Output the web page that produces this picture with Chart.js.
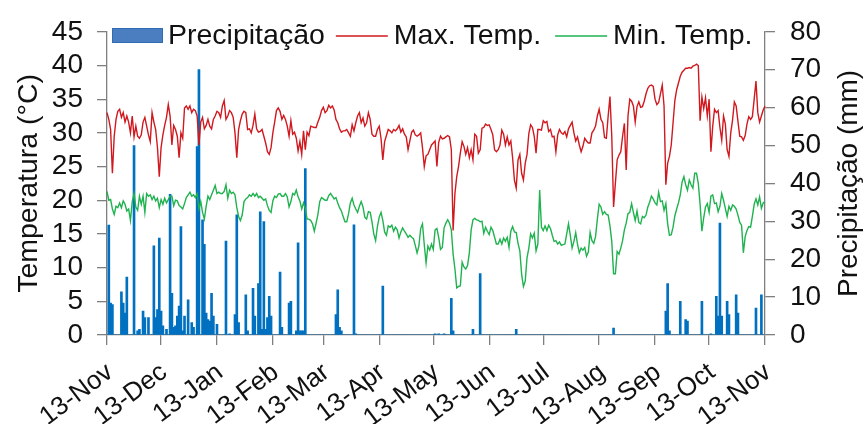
<!DOCTYPE html>
<html>
<head>
<meta charset="utf-8">
<script src="https://cdn.jsdelivr.net/npm/chart.js@4.4.1/dist/chart.umd.min.js"></script>
<style>
  html, body { margin: 0; padding: 0; background: #fff; }
  #wrap { width: 865px; height: 424px; position: relative; }
</style>
</head>
<body>
<div id="wrap"><canvas id="grafico" width="865" height="424"></canvas></div>
<script>
// Nomes dos meses usados nos rótulos do eixo x
const meses = ['Jan', 'Feb', 'Mar', 'Apr', 'May', 'Jun', 'Jul', 'Aug', 'Sep', 'Oct', 'Nov', 'Dec'];

// Temperatura máxima diária (°C), de 13-Nov a 13-Nov
const tempMax = [
  33, 32, 30.5, 24, 29.5, 32, 33.2, 33.5, 32.3, 33,
  31.6, 32.5, 31.6, 30, 32.5, 29.4, 31, 29.5, 29.2, 29.7,
  31.6, 32.3, 31, 29.7, 28.7, 33, 31.6, 30.5, 27.8, 23.5,
  27.8, 29.7, 31.1, 32.3, 34.2, 32.5, 28.2, 31.1, 30.5, 29.5,
  26.3, 30, 29.2, 33.7, 34, 33.5, 34, 33, 33.5, 33.3,
  32.5, 28.2, 31.6, 32.3, 30.6, 31.1, 32, 31, 30.6, 32,
  32.5, 33.2, 33, 32.3, 34, 34.8, 32, 32.5, 33.3, 33,
  32.3, 30, 26.3, 30.5, 31.8, 32.8, 33.2, 33, 30.5, 30.6,
  30, 31.1, 32.8, 30.6, 30.1, 30.2, 30.5, 29.5, 28.5, 27.2,
  26.8, 27.8, 30, 31.6, 33.3, 33.7, 33.2, 32, 32.6, 32,
  31, 29.5, 31.8, 29.8, 30.1, 29.2, 27.3, 28.7, 26.8, 30.3,
  27.5, 30.1, 29.6, 31, 30.9, 30.8, 30.8, 31.6, 32.3, 33.3,
  33.8, 33, 33.3, 34.1, 33.7, 34, 33.4, 32, 31.5, 30.6,
  30.1, 30.3, 30.3, 30.5, 30, 29.5, 31.2, 30.3, 31.5, 32.5,
  33, 31.5, 32.2, 31, 31.5, 33, 32, 29.8, 29.5, 29.5,
  30.5, 31, 29.2, 26, 28.7, 29.6, 30.5, 30.3, 30, 30.5,
  30.3, 30.6, 31.1, 30.1, 30.6, 29.8, 29.4, 27.5, 28.8, 30.1,
  30.4, 29.7, 29.5, 29.7, 30, 27.8, 25, 26.6, 26.8, 27.5,
  28.2, 28.5, 28.8, 25, 28.6, 29.5, 29.1, 29.2, 29.4, 29.6,
  29.4, 27.5, 15.5, 21, 23.5, 25, 27, 28.7, 28, 26.8,
  27.8, 26.3, 27.5, 26, 29.8, 29.5, 27, 27.5, 30.7, 30.8,
  31.3, 31.1, 31.2, 30.5, 29.7, 27.5, 27.2, 27.5, 28.2, 30.4,
  29.8, 28.2, 29.4, 28.2, 28.8, 26.3, 23, 21.8, 26, 26.8,
  24, 23, 25.5, 26.8, 29.9, 31.2, 30.8, 29.5, 27, 30.5,
  30.5, 30.4, 31.8, 31.5, 31.7, 30.2, 30.5, 29.4, 29.5, 27.2,
  29.7, 30.5, 30, 29.8, 30.2, 29.4, 30.6, 31.1, 31.6, 30,
  28.8, 29.4, 28.2, 27.2, 28, 29.2, 28.8, 28.5, 28.5, 30,
  30.4, 31, 32.5, 33.5, 32, 31.5, 29.3, 29.2, 32.5, 35.4,
  29.5, 19, 22.5, 26, 26.7, 27.2, 29.5, 31.4, 24.5, 32.5,
  35, 34.7, 34, 31.6, 33.9, 34.6, 33.8, 33.9, 34.7, 35.8,
  36.6, 37, 37.1, 36.9, 35, 34.2, 34.5, 35.8, 37.1, 34,
  22.3, 25.5, 26.5, 28.2, 31.5, 34.8, 36.4, 37.4, 38.4, 39,
  39.3, 39.6, 39.6, 39.7, 39.6, 39.9, 40, 40.2, 40, 31.8,
  35.3, 33.6, 35.2, 32.5, 35, 27.2, 31, 33.5, 33, 33.3,
  30.8, 28.9, 32.5, 31.3, 27.5, 26.5, 30, 31.9, 34.6, 34,
  31.7, 29.5, 29.4, 28.9, 29.6, 31.3, 32.4, 32, 32.4, 35,
  37.7, 33, 31.6, 32.5, 33.4, 34
];

// Temperatura mínima diária (°C)
const tempMin = [
  21.3, 20, 20.1, 18.7, 17.9, 19.1, 18.9, 19.6, 18.9, 19.9,
  19.4, 18.4, 18.7, 17, 19.8, 21, 19, 18.5, 20.6, 19.4,
  20.6, 18.2, 21, 20.6, 20.8, 20.1, 20.6, 19.9, 20.3, 18.9,
  20.1, 19.4, 20.3, 19.6, 20.1, 20.6, 20.6, 19.2, 20, 19.9,
  19.2, 19, 18.7, 19.5, 20.4, 20.8, 21.2, 20.6, 20.8, 20.4,
  21, 18.7, 19.8, 18.2, 17.2, 19.1, 20.6, 20.1, 20.8, 21.5,
  22.2, 21, 21.2, 21, 21, 21.3, 22.3, 20.3, 21.5, 21,
  21.2, 20.8, 18.9, 17.6, 17, 17.8, 19.8, 20.2, 20.4, 20.8,
  20.6, 21, 20.6, 21, 20.4, 20.6, 20.3, 20, 20.2, 19.2,
  18.5, 18.2, 19.9, 20.6, 20.4, 20.9, 21, 20.6, 20.6, 21,
  20.5, 19, 19.8, 21, 20.8, 21.5, 20.5, 19.9, 18.7, 19.6,
  18.8, 17.2, 17.2, 17, 16.5, 15.4, 16.6, 17.9, 19.8, 20.4,
  20.2, 20, 20, 20.7, 21, 20.6, 20.2, 20.4, 19.6, 18.9,
  18.4, 17.6, 16.8, 16.8, 18, 19.6, 20.3, 19.3, 18.7, 18.2,
  19.1, 19.8, 19, 17.5, 17.2, 18.3, 18.2, 16.8, 15, 14,
  16.1, 17.5, 18.2, 17, 15.3, 14.8, 16.2, 16, 16.3, 15.4,
  16, 15.6, 14.4, 15.3, 15.9, 15.4, 15, 14.5, 14.8, 14.5,
  14.3, 13.3, 12.2, 13.2, 15.8, 16.5, 13.4, 10.7, 13.2, 12.6,
  13.5, 12.7, 15.6, 15.8, 14.5, 12.7, 13, 15.9, 16.6, 17.1,
  16.6, 15.6, 12, 9.8, 7, 7.2, 7.3, 10.8, 10.1, 9.8,
  10.3, 12.2, 15.6, 17.1, 17.3, 17.1, 17, 16.8, 16.9, 15.1,
  16, 15.4, 14.9, 16, 15.5, 14.5, 13.5, 13.5, 14.2, 13.5,
  14.4, 13.9, 14.5, 13, 15.4, 16.1, 15.3, 15.2, 13.6, 12.5,
  9, 7.2, 8, 11.5, 12.9, 15, 14.4, 15.1, 12.5, 13.5,
  21.5, 16, 15.5, 16.2, 15.5, 16.3, 15.8, 14.8, 13.9, 14,
  13.5, 13.8, 13.3, 13.4, 13.5, 15, 16.5, 14.8, 12.9, 13.9,
  15.2, 13.5, 12.2, 12.9, 12.6, 13, 11.7, 12.3, 15.2, 14,
  13.6, 14.6, 17.2, 19.4, 19, 17.9, 18.3, 17.9, 17.8, 16.2,
  13.9, 9.1, 9.1, 12.4, 12, 12.9, 14, 15.6, 16.6, 18,
  18.2, 19.5, 18.2, 17, 18.4, 16.7, 16.5, 17.6, 17.4, 17.8,
  19, 19.7, 20.6, 20.2, 19.6, 19.3, 21.2, 19.8, 19.9, 18.5,
  19.5, 16.5, 14.8, 14.9, 16, 17.7, 18.7, 19.6, 20.8, 22.7,
  23.5, 22.3, 21.5, 23, 22.3, 21.8, 24, 24, 22.5, 19.4,
  15.4, 17.4, 19, 19.5, 18.2, 20.6, 20.8, 19.5, 19.6, 18.3,
  19.1, 21, 20, 18.8, 17.6, 19.1, 18.5, 19.3, 19.1, 18.7,
  17.8, 16.7, 16.3, 12.2, 14.6, 15.5, 16.1, 16, 17.6, 19.4,
  20.2, 19.3, 20.5, 18.8, 19.6, 19.8
];

// Dias com chuva (índice a partir de 13-Nov) e precipitação (mm)
const chuvaDia = [
  1, 2, 3, 8, 9, 10, 11, 15, 17, 18, 20, 21, 23, 26, 27, 28, 29, 30, 31, 33,
  35, 36, 37, 38, 39, 40, 41, 42, 43, 45, 47, 48, 50, 51, 53, 54, 55, 56, 57, 58,
  59, 61, 66, 68, 71, 72, 73, 77, 78, 81, 82, 84, 85, 86, 87, 88, 89, 90, 91, 96,
  97, 101, 102, 105, 106, 107, 108, 109, 110, 127, 128, 129, 130, 137, 138, 153,
  182, 184, 187, 191, 192, 203, 207, 227, 281, 310, 311, 312, 318, 321, 322, 330,
  335, 338, 339, 340, 341, 344, 345, 349, 350, 360, 363
];
const chuvaMm = [
  29, 8.4, 8, 11.4, 8.4, 5.8, 15.3, 50, 1.1, 1.5, 6.3, 4.6, 4.6, 23.5, 4.6, 6.7, 25.6, 6.3, 2.4, 1.5,
  37.1, 11, 2, 2.4, 5, 7.6, 28.6, 1.1, 5, 9.3, 3.3, 2, 49.7, 70, 30.4, 23.9, 5.8, 4.1, 3.7, 11,
  5, 2.8, 24.8, 0.3, 5.4, 31.7, 3.3, 10.6, 1.1, 12.3, 5, 13.6, 32.5, 1.5, 29.9, 1.5, 4.6, 10.2, 5, 16.6,
  2, 8.4, 8.9, 1.1, 24.3, 1.1, 1.1, 1.1, 43.9, 5.4, 11.9, 2, 1.1, 29.1, 0.3, 12.9,
  0.3, 0.3, 0.3, 9.7, 1.1, 1.5, 16.2, 1.5, 1.8, 6.3, 13.6, 1.1, 8.9, 4.1, 3.7, 8.9,
  0.3, 10.2, 5, 29.5, 5, 8.9, 5.4, 10.6, 5.8, 7.1, 10.6
];

// rótulos diários "13-Nov" ... "13-Nov"
const rotulos = [];
const inicio = new Date(2017, 10, 13);
for (let i = 0; i < tempMax.length; i++) {
  const d = new Date(inicio.getFullYear(), inicio.getMonth(), inicio.getDate() + i);
  rotulos.push(d.getDate() + '-' + meses[d.getMonth()]);
}

const precipitacao = rotulos.map(() => 0);
chuvaDia.forEach((dia, i) => { precipitacao[dia] = chuvaMm[i]; });

const fonte = 'Arial, "Liberation Sans", sans-serif';
const corEixo = '#7f7f7f';
const corTexto = '#111';

// legenda dentro da área do gráfico + título do eixo direito (lido de baixo para cima)
const extras = {
  id: 'extras',
  afterDraw(chart) {
    const ctx = chart.ctx;
    const ds = chart.data.datasets;
    const y = 36;
    let x = 112;
    ctx.save();
    ctx.font = '28.5px ' + fonte;
    ctx.textBaseline = 'middle';

    ctx.fillStyle = '#4b7ec0';
    ctx.fillRect(x, 28, 51, 15);
    ctx.strokeStyle = '#2d6db5';
    ctx.lineWidth = 1;
    ctx.strokeRect(x + 0.5, 28.5, 50, 14);
    x += 56;
    ctx.fillStyle = corTexto;
    ctx.fillText(ds[0].label, x, y);
    x += ctx.measureText(ds[0].label).width + 11;

    [1, 2].forEach(k => {
      ctx.strokeStyle = ds[k].borderColor;
      ctx.lineWidth = 1.5;
      ctx.beginPath();
      ctx.moveTo(x, y);
      ctx.lineTo(x + 52, y);
      ctx.stroke();
      x += 58;
      ctx.fillStyle = corTexto;
      ctx.fillText(ds[k].label, x, y);
      x += ctx.measureText(ds[k].label).width + 14;
    });

    const a = chart.chartArea;
    ctx.translate(849.5, (a.top + a.bottom) / 2);
    ctx.rotate(-Math.PI / 2);
    ctx.textAlign = 'center';
    ctx.font = '28px ' + fonte;
    ctx.fillStyle = corTexto;
    ctx.fillText('Precipitação (mm)', 0, 0);
    ctx.restore();
  }
};

new Chart(document.getElementById('grafico'), {
  type: 'line',
  data: {
    labels: rotulos,
    datasets: [
      {
        type: 'bar',
        label: 'Precipitação',
        data: precipitacao,
        yAxisID: 'y1',
        backgroundColor: '#0070c0',
        barThickness: 2,
        order: 3
      },
      {
        label: 'Max. Temp.',
        data: tempMax,
        yAxisID: 'y',
        borderColor: '#d0181f',
        borderWidth: 1.4,
        pointRadius: 0,
        tension: 0,
        order: 2
      },
      {
        label: 'Min. Temp.',
        data: tempMin,
        yAxisID: 'y',
        borderColor: '#1fb24f',
        borderWidth: 1.4,
        pointRadius: 0,
        tension: 0,
        order: 1
      }
    ]
  },
  options: {
    responsive: false,
    animation: false,
    layout: { padding: { top: 23, left: 0, right: 0, bottom: 0 } },
    plugins: {
      legend: { display: false },
      tooltip: { enabled: false }
    },
    scales: {
      x: {
        offset: false,
        grid: {
          offset: false,
          drawOnChartArea: false,
          color: corEixo,
          tickLength: 10,
          lineWidth: 1.3
        },
        border: { color: corEixo, width: 1.3 },
        ticks: {
          autoSkip: false,
          minRotation: 37,
          maxRotation: 37,
          padding: 12,
          labelOffset: 3,
          color: corTexto,
          font: { family: fonte, size: 26 },
          callback: function (v) {
            const l = this.getLabelForValue(v);
            return l.startsWith('13-') ? l : null;
          }
        },
        afterFit: s => { s.height = 89; }
      },
      y: {
        position: 'left',
        min: 0,
        max: 45,
        grid: { drawOnChartArea: false, color: corEixo, tickLength: 10, lineWidth: 1.3 },
        border: { color: corEixo, width: 1.3 },
        ticks: { stepSize: 5, autoSkip: false, padding: 14, color: corTexto, font: { family: fonte, size: 28 } },
        title: {
          display: true,
          text: 'Temperatura (°C)',
          color: corTexto,
          font: { family: fonte, size: 28.5 },
          padding: { top: 12, bottom: 0 }
        },
        afterFit: s => { s.width = 107; }
      },
      y1: {
        position: 'right',
        min: 0,
        max: 80,
        grid: { drawOnChartArea: false, color: corEixo, tickLength: 10, lineWidth: 1.3 },
        border: { color: corEixo, width: 1.3 },
        ticks: { stepSize: 10, autoSkip: false, padding: 15, color: corTexto, font: { family: fonte, size: 28 } },
        afterFit: s => { s.width = 100; }
      }
    }
  },
  plugins: [extras]
});
</script>
</body>
</html>
